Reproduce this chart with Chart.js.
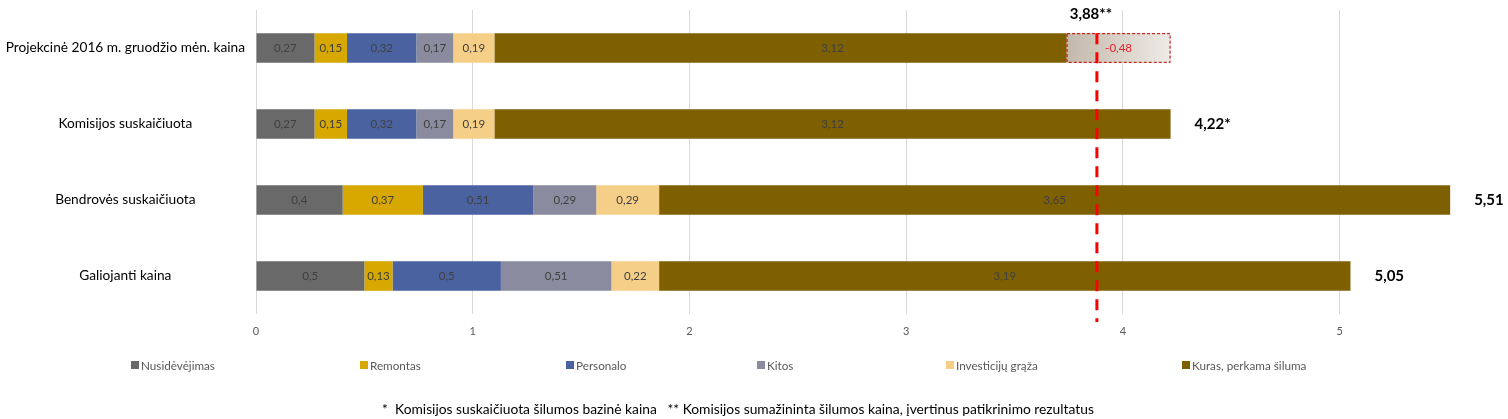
<!DOCTYPE html>
<html>
<head>
<meta charset="utf-8">
<script src="https://cdn.jsdelivr.net/npm/chart.js@4.4.1/dist/chart.umd.min.js"></script>
<style>
    html, body { margin: 0; padding: 0; background: #fff; }
    #wrap { position: relative; width: 1508px; height: 419px; font-family: Lato, sans-serif; }
    #chart { position: absolute; left: 0; top: 0; }
    #legend { position: absolute; top: 358px; left: 0; width: 1508px; height: 18px; }
    .item { position: absolute; top: 0; display: flex; align-items: center; font-size: 11.7px; color: #595959; white-space: nowrap; }
    .item i { display: inline-block; width: 8px; height: 8px; margin-right: 2px; }
    #note { position: absolute; top: 400px; left: 0; width: 1476px; text-align: center; font-size: 13.8px; color: #000; white-space: pre; }
</style>
</head>
<body>
<div id="wrap">
    <canvas id="chart" width="1508" height="419"></canvas>
    <div id="legend"></div>
    <div id="note">*  Komisijos suskaičiuota šilumos bazinė kaina   ** Komisijos sumažininta šilumos kaina, įvertinus patikrinimo rezultatus</div>
</div>
<script>
// duomenys
const categories = ['Projekcinė 2016 m. gruodžio mėn. kaina', 'Komisijos suskaičiuota', 'Bendrovės suskaičiuota', 'Galiojanti kaina'];
const seriesNames = ['Nusidėvėjimas', 'Remontas', 'Personalo', 'Kitos', 'Investicijų grąža', 'Kuras, perkama šiluma'];
const nusidevejimas = [0.27, 0.27, 0.4, 0.5];
const remontas = [0.15, 0.15, 0.37, 0.13];
const personalo = [0.32, 0.32, 0.51, 0.5];
const kitos = [0.17, 0.17, 0.29, 0.51];
const investicijuGraza = [0.19, 0.19, 0.29, 0.22];
const kuras = [3.12, 3.12, 3.65, 3.19];
const korekcija = [-0.48, 0, 0, 0];
const totalSuffix = [null, '*', '', ''];
const sumazintaKaina = 3.88;
const xTicks = [0, 1, 2, 3, 4, 5];

const colors = ['#696969', '#d6a800', '#4a62a0', '#8a8b9e', '#f5cf87', '#7f6000'];
const fmt = v => String(+v.toFixed(2)).replace('.', ',');
const base = [nusidevejimas, remontas, personalo, kitos, investicijuGraza, kuras];
const totals = categories.map((c, i) => base.reduce((s, arr) => s + arr[i], 0));

// legenda
const legendLeft = [131, 360, 566, 757, 946, 1182];
const legendEl = document.getElementById('legend');
seriesNames.forEach((name, k) => {
    const d = document.createElement('div');
    d.className = 'item';
    d.style.left = legendLeft[k] + 'px';
    d.innerHTML = '<i style="background:' + colors[k] + '"></i>' + name;
    legendEl.appendChild(d);
});

const datasets = base.map((arr, k) => ({
    label: seriesNames[k],
    data: k === 5 ? arr.map((v, i) => v + korekcija[i]) : arr,
    raw: arr,
    backgroundColor: colors[k]
}));
datasets.push({
    label: 'korekcija',
    data: korekcija.map(v => Math.abs(v)),
    raw: korekcija,
    isDelta: true,
    borderWidth: 0,
    backgroundColor: (ctx) => {
        const sc = ctx.chart.scales.x;
        const i = ctx.dataIndex;
        if (!sc || !korekcija[i]) return '#d8d2ca';
        const x0 = sc.getPixelForValue(totals[i] + korekcija[i]);
        const x1 = sc.getPixelForValue(totals[i]);
        if (!isFinite(x0) || !isFinite(x1)) return '#d8d2ca';
        const g = ctx.chart.ctx.createLinearGradient(x0, 0, x1, 0);
        g.addColorStop(0, '#c3b8aa');
        g.addColorStop(1, '#eeebe6');
        return g;
    }
});

const labelsPlugin = {
    id: 'labels',
    afterDatasetsDraw(chart) {
        const ctx = chart.ctx;
        const xs = chart.scales.x;
        ctx.save();
        ctx.textBaseline = 'middle';
        ctx.textAlign = 'center';
        chart.data.datasets.forEach((ds, k) => {
            const meta = chart.getDatasetMeta(k);
            meta.data.forEach((el, i) => {
                const v = ds.raw[i];
                if (!v) return;
                let start = 0;
                for (let j = 0; j < k && j < 6; j++) start += base[j][i];
                if (ds.isDelta) {
                    // punktyrinis rėmelis
                    const x0 = xs.getPixelForValue(totals[i] + v);
                    const x1 = xs.getPixelForValue(totals[i]);
                    const h = el.height;
                    ctx.setLineDash([3, 2]);
                    ctx.strokeStyle = '#c00000';
                    ctx.lineWidth = 1;
                    ctx.strokeRect(x0 + 0.5, el.y - h / 2 + 0.5, x1 - x0 - 1, h - 1);
                    ctx.setLineDash([]);
                    ctx.fillStyle = '#e8202a';
                    ctx.font = '11.5px Lato';
                    ctx.fillText(fmt(v), (x0 + x1) / 2, el.y);
                } else {
                    const cx = xs.getPixelForValue(start + v / 2);
                    ctx.fillStyle = '#404040';
                    ctx.font = '11.5px Lato';
                    ctx.fillText(fmt(v), cx, el.y);
                }
            });
        });
        // sumos
        const last = chart.getDatasetMeta(0);
        ctx.fillStyle = '#000';
        ctx.font = 'bold 15px Lato';
        ctx.textAlign = 'left';
        totals.forEach((t, i) => {
            if (totalSuffix[i] === null) return;
            ctx.fillText(fmt(t) + totalSuffix[i], xs.getPixelForValue(t) + 24, last.data[i].y);
        });
        // sumažinta kaina
        const lx = xs.getPixelForValue(sumazintaKaina);
        const top = last.data[0].y - last.data[0].height / 2;
        ctx.beginPath();
        ctx.setLineDash([11, 8]);
        ctx.strokeStyle = '#ff0000';
        ctx.lineWidth = 3;
        ctx.moveTo(lx, top);
        ctx.lineTo(lx, chart.chartArea.bottom + 8);
        ctx.stroke();
        ctx.setLineDash([]);
        ctx.textAlign = 'center';
        ctx.fillText(fmt(sumazintaKaina) + '**', lx - 6, 14);
        ctx.restore();
    }
};

const chart = new Chart(document.getElementById('chart'), {
    type: 'bar',
    data: { labels: categories, datasets: datasets },
    plugins: [labelsPlugin],
    options: {
        indexAxis: 'y',
        responsive: false,
        animation: false,
        layout: { padding: { top: 10, right: 8, left: 0, bottom: 0 } },
        datasets: { bar: { categoryPercentage: 1, barPercentage: 0.39 } },
        plugins: { legend: { display: false }, tooltip: { enabled: false } },
        scales: {
            x: {
                stacked: true,
                min: 0,
                max: 5.74,
                afterBuildTicks: sc => { sc.ticks = xTicks.map(v => ({ value: v })); },
                afterFit: sc => { sc.height = 105; },
                grid: { color: '#d9d9d9', drawTicks: false },
                border: { display: false },
                ticks: { padding: 11, color: '#595959', font: { family: 'Lato', size: 11 } }
            },
            y: {
                stacked: true,
                afterFit: sc => { sc.width = 256; sc.paddingTop = 0; sc.paddingBottom = 0; },
                grid: { display: false, drawTicks: false },
                border: { display: false },
                ticks: { crossAlign: 'center', padding: 11, color: '#000', font: { family: 'Lato', size: 13.7 } }
            }
        }
    }
});
</script>
</body>
</html>
